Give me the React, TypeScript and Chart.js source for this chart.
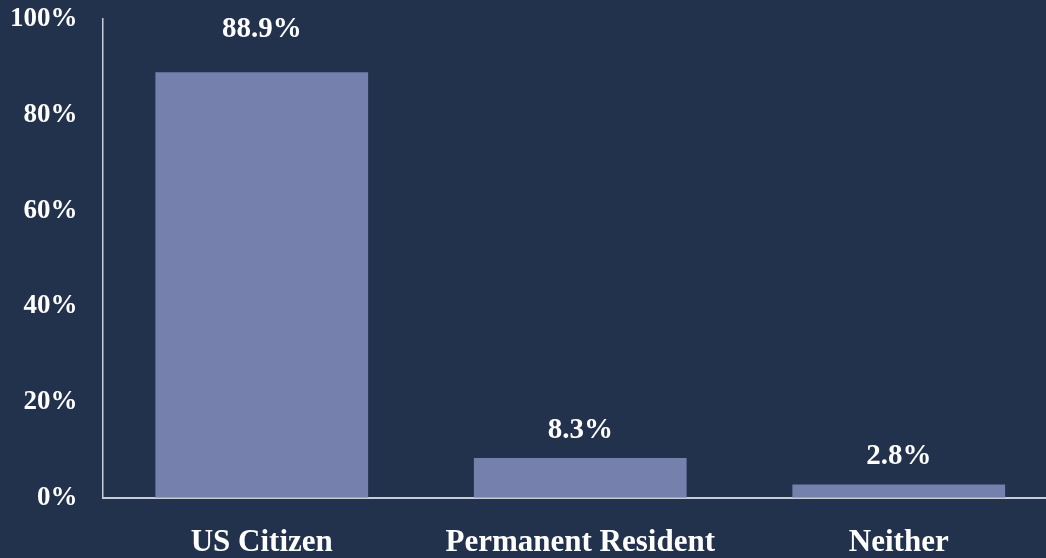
import React, { useEffect, useRef } from "react";
import { Chart, registerables } from "chart.js";

Chart.register(...registerables);

const categories = ["US Citizen", "Permanent Resident", "Neither"];
const values = [88.9, 8.3, 2.8];
const yTicks = [0, 20, 40, 60, 80, 100];

const BG = "#22324c";
const BAR = "#7580ad";
const AXIS = "#c9ccd6";
const FONT = "'Liberation Serif', 'DejaVu Serif', serif";

const valueLabels = {
  id: "valueLabels",
  afterDatasetsDraw(chart: any) {
    const ctx = chart.ctx;
    const meta = chart.getDatasetMeta(0);
    const top = chart.chartArea.top;
    ctx.save();
    ctx.fillStyle = "#ffffff";
    ctx.font = `bold 29px ${FONT}`;
    ctx.textAlign = "center";
    ctx.textBaseline = "middle";
    meta.data.forEach((bar: any, i: number) => {
      let y = bar.y - 28;
      if (y < top + 40) y = top + 10;
      ctx.fillText(values[i].toFixed(1) + "%", bar.x, y);
    });
    ctx.restore();
  },
};

export default function App() {
  const ref = useRef<HTMLCanvasElement>(null);
  useEffect(() => {
    document.body.style.margin = "0";
    document.body.style.overflow = "hidden";
    const chart = new Chart(ref.current!, {
      type: "bar",
      data: {
        labels: categories,
        datasets: [
          {
            data: values,
            backgroundColor: BAR,
            borderWidth: 0,
            categoryPercentage: 1,
            barPercentage: 0.668,
          },
        ],
      },
      options: {
        animation: false,
        responsive: false,
        devicePixelRatio: 1,
        layout: { padding: { left: -15, top: 0, right: 0, bottom: 0 } },
        plugins: { legend: { display: false }, tooltip: { enabled: false } },
        scales: {
          x: {
            grid: { display: false, drawTicks: false },
            border: { display: true, color: AXIS, width: 2 },
            ticks: {
              color: "#ffffff",
              font: { family: FONT, size: 31, weight: "bold" },
              padding: 27,
              maxRotation: 0,
            },
          },
          y: {
            min: 0,
            max: 100,
            afterBuildTicks(scale: any) {
              scale.ticks = yTicks.map((v) => ({ value: v }));
            },
            grid: { display: false, drawTicks: false },
            border: { display: true, color: AXIS, width: 1.5 },
            ticks: {
              color: "#ffffff",
              font: { family: FONT, size: 27, weight: "bold" },
              padding: 25,
              callback: (v: any) => v + "%",
            },
          },
        },
      },
      plugins: [valueLabels],
    });
    return () => chart.destroy();
  }, []);
  return (
    <div
      style={{
        position: "fixed",
        left: 0,
        top: 0,
        width: 1046,
        height: 558,
        overflow: "hidden",
        background: BG,
      }}
    >
      <canvas
        ref={ref}
        width={1058}
        height={611}
        style={{ display: "block", position: "absolute", left: 0, top: -22 }}
      />
    </div>
  );
}
